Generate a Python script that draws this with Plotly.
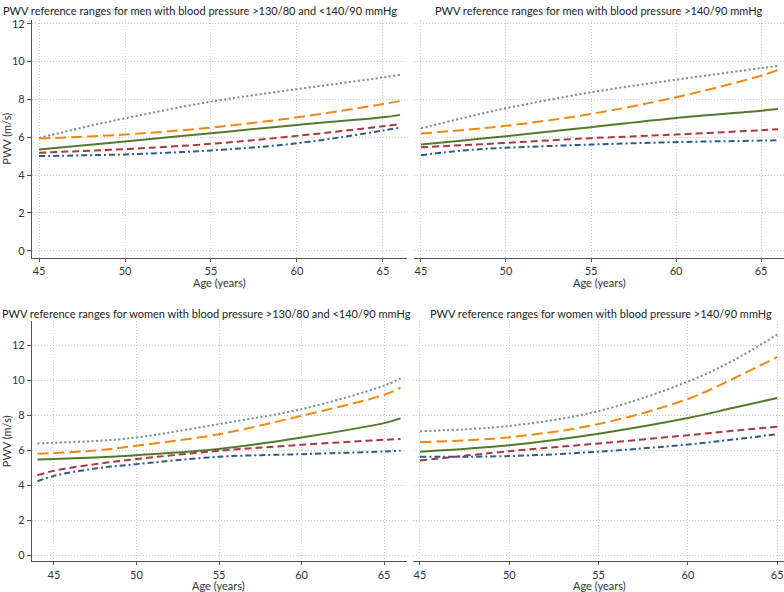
import plotly.graph_objects as go

# ---------------- data ----------------
ages_men = [45, 47.5, 50, 55, 60, 65, 66]
men_mid_p1 = [5.96, 6.50, 7.00, 7.88, 8.54, 9.16, 9.30]
men_mid_p2 = [5.93, 6.02, 6.14, 6.51, 7.05, 7.75, 7.91]
men_mid_p3 = [5.35, 5.56, 5.77, 6.21, 6.65, 7.05, 7.18]
men_mid_p4 = [5.18, 5.27, 5.37, 5.65, 6.07, 6.58, 6.70]
men_mid_p5 = [5.00, 5.04, 5.09, 5.30, 5.68, 6.35, 6.51]

men_high_p1 = [6.47, 7.02, 7.53, 8.37, 9.04, 9.65, 9.77]
men_high_p2 = [6.19, 6.38, 6.60, 7.23, 8.11, 9.25, 9.56]
men_high_p3 = [5.61, 5.83, 6.05, 6.53, 7.02, 7.40, 7.49]
men_high_p4 = [5.47, 5.58, 5.70, 5.95, 6.14, 6.37, 6.42]
men_high_p5 = [5.05, 5.30, 5.44, 5.61, 5.74, 5.82, 5.84]

ages_women_mid = [44, 45, 47.5, 50, 55, 60, 65, 66]
women_mid_p1 = [6.38, 6.42, 6.52, 6.72, 7.49, 8.34, 9.68, 10.10]
women_mid_p2 = [5.79, 5.83, 5.98, 6.25, 6.91, 7.96, 9.16, 9.56]
women_mid_p3 = [5.47, 5.49, 5.58, 5.71, 6.06, 6.72, 7.54, 7.81]
women_mid_p4 = [4.57, 4.82, 5.20, 5.49, 5.96, 6.30, 6.59, 6.63]
women_mid_p5 = [4.22, 4.53, 4.95, 5.20, 5.62, 5.77, 5.92, 5.96]

ages_women_high = [45, 50, 55, 60, 62.5, 65]
women_high_p1 = [7.08, 7.38, 8.23, 9.91, 11.10, 12.60]
women_high_p2 = [6.45, 6.74, 7.49, 8.92, 10.06, 11.32]
women_high_p3 = [5.91, 6.28, 6.94, 7.83, 8.40, 8.98]
women_high_p4 = [5.40, 5.94, 6.38, 6.85, 7.10, 7.34]
women_high_p5 = [5.62, 5.66, 5.91, 6.32, 6.60, 6.91]

titles = [
    "PWV reference ranges for men with blood pressure >130/80 and <140/90 mmHg",
    "PWV reference ranges for men with blood pressure >140/90 mmHg",
    "PWV reference ranges for women with blood pressure >130/80 and <140/90 mmHg",
    "PWV reference ranges for women with blood pressure >140/90 mmHg",
]
x_title = "Age (years)"
y_title = "PWV (m/s)"
x_ticks = [45, 50, 55, 60, 65]
y_ticks = [0, 2, 4, 6, 8, 10, 12]

# ---------------- styling ----------------
FONT = "Lato"
styles = [
    dict(color="#6f8f88", dash="2px,2.5px", width=2),
    dict(color="#ee8a12", dash="11px,5px", width=2),
    dict(color="#537a2c", dash="solid", width=2),
    dict(color="#a53a40", dash="7px,4px", width=2),
    dict(color="#2f5a8a", dash="6px,3px,2px,3px", width=2),
]

panels = [
    (ages_men, [men_mid_p1, men_mid_p2, men_mid_p3, men_mid_p4, men_mid_p5], "x", "y"),
    (ages_men, [men_high_p1, men_high_p2, men_high_p3, men_high_p4, men_high_p5], "x2", "y2"),
    (ages_women_mid, [women_mid_p1, women_mid_p2, women_mid_p3, women_mid_p4, women_mid_p5], "x3", "y3"),
    (ages_women_high, [women_high_p1, women_high_p2, women_high_p3, women_high_p4, women_high_p5], "x4", "y4"),
]

fig = go.Figure()
for ages, series, xa, ya in panels:
    for s, st in zip(series, styles):
        fig.add_trace(go.Scatter(x=ages, y=s, mode="lines", xaxis=xa, yaxis=ya,
                                 line=dict(shape="spline", smoothing=1.0, **st),
                                 showlegend=False, hoverinfo="skip"))

W, H = 784, 592
def px_x(a, b):
    return [a / W, b / W]
def px_y(top, bottom):
    return [1 - bottom / H, 1 - top / H]

grid = dict(showgrid=True, gridcolor="#c8c8c8", griddash="1px,2px", gridwidth=1, zeroline=False)
tickf = dict(family=FONT, size=11, color="#333333")

def xaxis(dom, rng, anchor):
    return dict(domain=dom, range=rng, anchor=anchor, tickvals=x_ticks, ticks="outside",
                ticklen=3, tickcolor="#555555", showline=True, linecolor="#555555", linewidth=1.3,
                tickfont=tickf, ticklabeloverflow="allow", **grid)

def yaxis(dom, rng, anchor, labels=True):
    d = dict(domain=dom, range=rng, anchor=anchor, tickvals=y_ticks, **grid)
    if labels:
        d.update(ticks="outside", ticklen=4, tickcolor="#555555", showline=True,
                 linecolor="#555555", linewidth=1.3, tickfont=tickf,
                 title=dict(text=y_title, font=tickf, standoff=3))
    else:
        d.update(showticklabels=False, ticks="", showline=False)
    return d

fig.update_layout(
    width=W, height=H, margin=dict(l=0, r=0, t=0, b=0),
    paper_bgcolor="white", plot_bgcolor="white",
    font=dict(family=FONT, size=11, color="#333333"),
    xaxis=xaxis(px_x(32, 407), [44.59, 66.4], "y"),
    yaxis=yaxis(px_y(17, 256), [-0.37, 12.2], "x"),
    xaxis2=xaxis(px_x(414, 784), [44.59, 66.35], "y2"),
    yaxis2=yaxis(px_y(17, 256), [-0.37, 12.2], "x2", labels=False),
    xaxis3=xaxis(px_x(32, 407), [43.67, 66.39], "y3"),
    yaxis3=yaxis(px_y(320, 561), [-0.34, 13.35], "x3"),
    xaxis4=xaxis(px_x(413, 784), [44.61, 65.38], "y4"),
    yaxis4=yaxis(px_y(320, 561), [-0.34, 13.35], "x4", labels=False),
)

title_pos = [(200, 8), (598, 8), (206, 312), (601, 312)]
for t, (cx, cy) in zip(titles, title_pos):
    fig.add_annotation(text=t, x=cx / W, y=1 - cy / H, xref="paper", yref="paper",
                       xanchor="center", yanchor="middle", showarrow=False,
                       font=dict(family=FONT, size=11, color="#222222"))

xtitle_pos = [(220, 281), (599, 281), (218, 585.5), (599, 585.5)]
for cx, cy in xtitle_pos:
    fig.add_annotation(text=x_title, x=cx / W, y=1 - cy / H, xref="paper", yref="paper",
                       xanchor="center", yanchor="middle", showarrow=False,
                       font=tickf)

fig.write_html("out.html", config={"displayModeBar": False},
               post_script="document.body.style.margin='0px';document.body.style.overflow='hidden';")
